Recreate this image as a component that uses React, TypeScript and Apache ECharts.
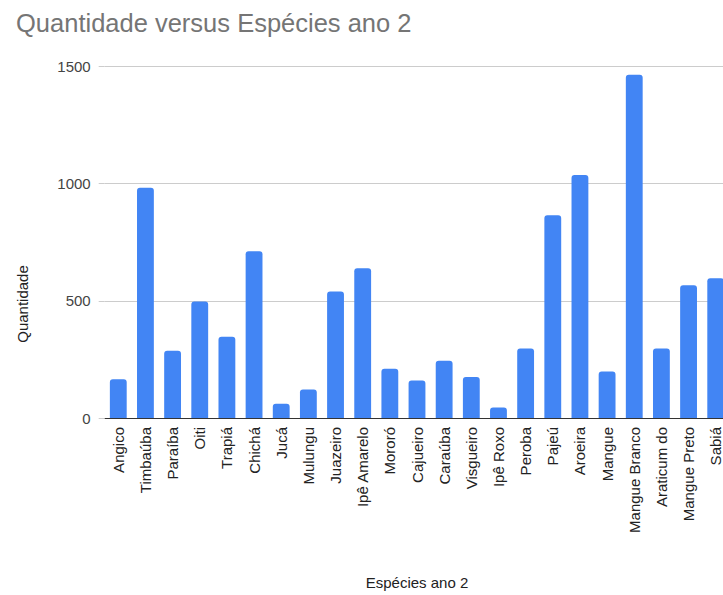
import React, { useEffect, useRef } from "react";
import * as echarts from "echarts";

const categories = [
  "Angico", "Timbaúba", "Paraíba", "Oiti", "Trapiá", "Chichá", "Jucá", "Mulungu",
  "Juazeiro", "Ipê Amarelo", "Mororó", "Cajueiro", "Caraúba", "Visgueiro", "Ipê Roxo",
  "Peroba", "Pajeú", "Aroeira", "Mangue", "Mangue Branco", "Araticum do", "Mangue Preto", "Sabiá",
];

const quantidade = [
  165, 982, 287, 497, 347, 711, 61, 122,
  540, 639, 210, 160, 244, 175, 45,
  296, 865, 1036, 198, 1464, 296, 566, 596,
];

const yTicks = [0, 500, 1000, 1500];

const FONT = "'Liberation Sans', Arial, sans-serif";

export default function App() {
  const ref = useRef<HTMLDivElement>(null);

  useEffect(() => {
    if (!ref.current) return;
    const chart = echarts.init(ref.current, undefined, { renderer: "svg" });
    chart.setOption({
      animation: false,
      backgroundColor: "#ffffff",
      textStyle: { fontFamily: FONT },
      title: {
        text: "Quantidade versus Espécies ano 2",
        left: 11,
        top: 5,
        textStyle: { fontFamily: FONT, fontSize: 25.5, fontWeight: "normal", color: "#757575" },
      },
      grid: { left: 104.7, right: 30.7, top: 66.3, bottom: 172.7, containLabel: false },
      xAxis: {
        type: "category",
        data: categories,
        name: "Espécies ano 2",
        nameLocation: "middle",
        nameGap: 157,
        nameTextStyle: { fontFamily: FONT, fontSize: 15, color: "#222222" },
        axisLine: { show: true, lineStyle: { color: "#333333", width: 1 } },
        axisTick: { show: false },
        axisLabel: {
          rotate: 90,
          interval: 0,
          margin: 9,
          fontFamily: FONT,
          fontSize: 15,
          color: "#222222",
        },
      },
      yAxis: {
        type: "value",
        min: yTicks[0],
        max: yTicks[yTicks.length - 1],
        interval: 500,
        axisLine: { show: false },
        axisTick: { show: true, length: 6, lineStyle: { color: "#cccccc" } },
        splitLine: { show: true, lineStyle: { color: "#cccccc", width: 1 } },
        axisLabel: {
          margin: 14,
          fontFamily: FONT,
          fontSize: 15,
          color: "#444444",
          formatter: (v: number) => String(v),
        },
      },
      graphic: [
        {
          type: "text",
          x: 22,
          y: 304,
          rotation: Math.PI / 2,
          style: {
            text: "Quantidade",
            fontFamily: FONT,
            fontSize: 15,
            fill: "#222222",
            align: "center",
            verticalAlign: "middle",
          },
        },
      ],
      series: [
        {
          type: "bar",
          data: quantidade,
          barCategoryGap: "38%",
          itemStyle: { color: "#4285F4", borderRadius: [3, 3, 0, 0] },
        },
      ],
    });
    return () => chart.dispose();
  }, []);

  return (
    <div style={{ position: "fixed", left: 0, top: 0, width: 723, height: 595, overflow: "hidden", background: "#fff" }}>
      <div ref={ref} style={{ width: 760, height: 595 }} />
    </div>
  );
}
